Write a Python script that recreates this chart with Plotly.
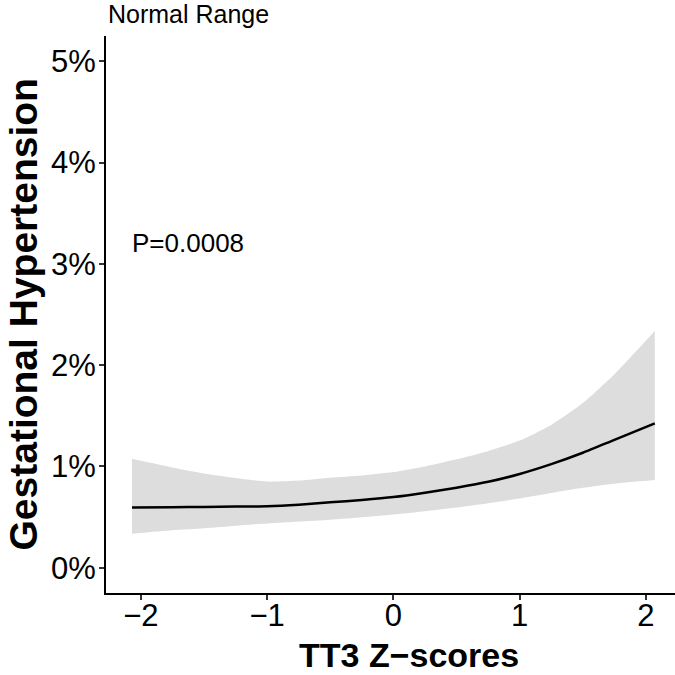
import plotly.graph_objects as go

# TT3 z-score grid and fitted probability of gestational hypertension (%)
z_scores = [-2.07, -1.75, -1.5, -1.25, -1.0, -0.75, -0.5, -0.25, 0.0,
            0.25, 0.5, 0.75, 1.0, 1.25, 1.5, 1.75, 2.07]
fit_pct = [0.595, 0.597, 0.600, 0.603, 0.607, 0.622, 0.645, 0.668, 0.697,
           0.740, 0.790, 0.848, 0.925, 1.022, 1.135, 1.262, 1.425]
upper_pct = [1.076, 0.990, 0.930, 0.885, 0.850, 0.860, 0.888, 0.910, 0.944,
             1.000, 1.070, 1.150, 1.255, 1.410, 1.625, 1.910, 2.336]
lower_pct = [0.336, 0.370, 0.390, 0.415, 0.437, 0.455, 0.474, 0.498, 0.526,
             0.558, 0.594, 0.637, 0.684, 0.738, 0.790, 0.830, 0.866]

x_ticks = [-2, -1, 0, 1, 2]
x_tick_text = ["\u22122", "\u22121", "0", "1", "2"]
y_ticks = [0, 1, 2, 3, 4, 5]
y_tick_text = ["0%", "1%", "2%", "3%", "4%", "5%"]

p_label = "P=0.0008"
panel_title = "Normal Range"
x_title = "TT3 Z\u2212scores"
y_title = "Gestational Hypertension"

FONT = "Liberation Sans, Arial, sans-serif"

fig = go.Figure()

# confidence band: lower edge, then upper edge filled down to it
fig.add_trace(go.Scatter(
    x=z_scores, y=lower_pct,
    mode="lines",
    line=dict(width=0, color="#DDDDDD", shape="spline", smoothing=0.6),
    hoverinfo="skip", showlegend=False,
))
fig.add_trace(go.Scatter(
    x=z_scores, y=upper_pct,
    mode="lines", fill="tonexty", fillcolor="#DDDDDD",
    line=dict(width=0, color="#DDDDDD", shape="spline", smoothing=0.6),
    hoverinfo="skip", showlegend=False,
))

# fitted curve
fig.add_trace(go.Scatter(
    x=z_scores, y=fit_pct,
    mode="lines",
    line=dict(color="black", width=2.5, shape="spline", smoothing=0.6),
    showlegend=False,
))

axis_common = dict(
    showgrid=False,
    zeroline=False,
    showline=True,
    linecolor="black",
    linewidth=2,
    ticks="outside",
    ticklen=5,
    tickwidth=1.5,
    tickcolor="#333333",
    tickfont=dict(family=FONT, size=31, color="black"),
)

fig.update_xaxes(
    range=[-2.276, 2.23],
    tickvals=x_ticks,
    ticktext=x_tick_text,
    ticklabelstandoff=-11,
    **axis_common,
)
fig.update_yaxes(
    range=[-0.25, 5.25],
    tickvals=y_ticks,
    ticktext=y_tick_text,
    ticklabelstandoff=-3,
    **axis_common,
)

fig.add_annotation(
    x=-2.07, y=3.21, xref="x", yref="y",
    text=p_label, showarrow=False,
    xanchor="left", yanchor="middle", xshift=-2,
    font=dict(family=FONT, size=26, color="black"),
)
fig.add_annotation(
    x=0, y=1.0, xref="paper", yref="paper",
    text=panel_title, showarrow=False,
    xanchor="left", yanchor="bottom", yshift=6,
    font=dict(family=FONT, size=25, color="black"),
)
fig.add_annotation(
    x=0.5325, y=0, xref="paper", yref="paper",
    text=f"<b>{x_title}</b>", showarrow=False,
    xanchor="center", yanchor="top", yshift=-41,
    font=dict(family=FONT, size=34, color="black"),
)
fig.add_annotation(
    x=0, y=0.5, xref="paper", yref="paper",
    text=f"<b>{y_title}</b>", showarrow=False, textangle=-90,
    xanchor="center", yanchor="middle", xshift=-83,
    font=dict(family=FONT, size=39, color="black"),
)

fig.update_layout(
    width=675,
    height=675,
    margin=dict(l=106, r=0, t=36, b=82),
    paper_bgcolor="white",
    plot_bgcolor="white",
    font=dict(family=FONT),
)

fig.write_html("out.html")
